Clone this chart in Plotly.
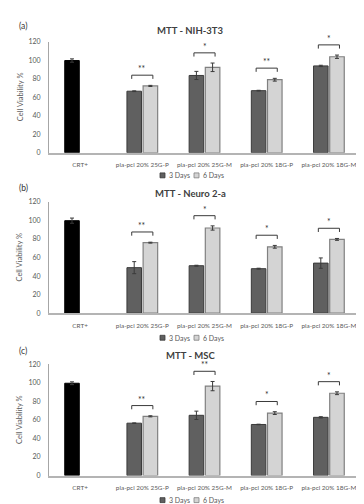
import plotly.graph_objects as go

# ---------------- data ----------------
categories = ["CRT+", "pla-pcl 20% 25G-P", "pla-pcl 20% 25G-M", "pla-pcl 20% 18G-P", "pla-pcl 20% 18G-M"]
samples = categories[1:]
y_ticks = [0, 20, 40, 60, 80, 100, 120]

titles = ["MTT - NIH-3T3", "MTT - Neuro 2-a", "MTT - MSC"]
panel_labels = ["(a)", "(b)", "(c)"]

crt_a, crt_err_a = 99.5, 1.8
days3_a = [66.4, 83.4, 67.0, 93.7]
days3_err_a = [0.4, 4.4, 0.4, 0.7]
days6_a = [72.1, 92.2, 78.8, 103.6]
days6_err_a = [0.6, 4.6, 1.5, 1.8]
sig_a = ["**", "*", "**", "*"]

crt_b, crt_err_b = 99.8, 2.8
days3_b = [49.1, 51.2, 48.0, 54.0]
days3_err_b = [6.5, 0.5, 0.5, 5.6]
days6_b = [76.1, 91.9, 71.6, 79.6]
days6_err_b = [0.5, 2.3, 1.5, 1.0]
sig_b = ["**", "*", "*", "*"]

crt_c, crt_err_c = 99.6, 1.5
days3_c = [56.5, 65.0, 55.1, 62.8]
days3_err_c = [0.3, 4.5, 0.3, 0.7]
days6_c = [63.9, 96.5, 67.4, 88.8]
days6_err_c = [0.6, 5.0, 1.5, 1.5]
sig_c = ["**", "**", "*", "*"]

panels = [
    (crt_a, crt_err_a, days3_a, days3_err_a, days6_a, days6_err_a, sig_a),
    (crt_b, crt_err_b, days3_b, days3_err_b, days6_b, days6_err_b, sig_b),
    (crt_c, crt_err_c, days3_c, days3_err_c, days6_c, days6_err_c, sig_c),
]

# ---------------- styling ----------------
W, H = 364, 504
FONT = "Lato, 'Open Sans', sans-serif"
DARK = "#606060"
DARK_LINE = "#3a3a3a"
LIGHT = "#d4d4d4"
LIGHT_LINE = "#808080"
TXT = "#595959"
ERR = "#3a3a3a"

def px_x(x):
    return x / W

def px_y(y):
    return 1 - y / H

plot_left, plot_right = 41, 352
panel_tops = [29, 192, 357]
plot_h = 113
panel_offsets = [0, 165, 330]

fig = go.Figure()
shapes = []
annotations = []

for i, (crt, crt_err, d3, d3e, d6, d6e, sig) in enumerate(panels):
    n = i + 1
    xa = "x" if n == 1 else f"x{n}"
    ya = "y" if n == 1 else f"y{n}"
    top = panel_tops[i]
    bot = top + plot_h
    off = panel_offsets[i]

    fig.add_trace(go.Bar(
        x=[categories[0]], y=[crt], xaxis=xa, yaxis=ya, offsetgroup=f"d3_{n}",
        marker=dict(color="#000000", line=dict(color="#000000", width=1)),
        error_y=dict(type="data", array=[crt_err], color=ERR, thickness=1, width=2),
        showlegend=False, name="CRT+",
    ))
    fig.add_trace(go.Bar(
        x=samples, y=d3, xaxis=xa, yaxis=ya, offsetgroup=f"d3_{n}",
        marker=dict(color=DARK, line=dict(color=DARK_LINE, width=1)),
        error_y=dict(type="data", array=d3e, color=ERR, thickness=1, width=2),
        showlegend=False, name="3 Days",
    ))
    fig.add_trace(go.Bar(
        x=samples, y=d6, xaxis=xa, yaxis=ya, offsetgroup=f"d6_{n}",
        marker=dict(color=LIGHT, line=dict(color=LIGHT_LINE, width=1.2)),
        error_y=dict(type="data", array=d6e, color=ERR, thickness=1, width=2),
        showlegend=False, name="6 Days",
    ))

    xdom = [px_x(plot_left), px_x(plot_right)]
    ydom = [px_y(bot), px_y(top)]
    fig.update_layout(**{
        ("xaxis" if n == 1 else f"xaxis{n}"): dict(
            domain=xdom, anchor=ya, type="category",
            categoryorder="array", categoryarray=categories,
            range=[-0.5, len(categories) - 0.5],
            showline=True, linecolor="#b4b4b4", linewidth=1.5,
            ticks="", showgrid=False, zeroline=False,
            tickfont=dict(family=FONT, size=6.4, color=TXT),
            ticklabelstandoff=5,
        ),
        ("yaxis" if n == 1 else f"yaxis{n}"): dict(
            domain=ydom, anchor=xa, range=[0, 120], tickvals=y_ticks,
            showline=True, linecolor="#a6a6a6", linewidth=1,
            ticks="", showgrid=False, zeroline=False,
            tickfont=dict(family=FONT, size=7, color=TXT),
            ticklabelstandoff=6,
        ),
    })

    # significance brackets, computed from data
    for j, s in enumerate(sig):
        c = j + 1
        level = max(d3[j] + d3e[j], d6[j] + d6e[j]) + 11
        x0, x1 = c - 0.17, c + 0.17
        shapes.append(dict(
            type="path", xref=xa, yref=ya,
            path=f"M {x0},{level-4} L {x0},{level} L {x1},{level} L {x1},{level-4}",
            line=dict(color=DARK_LINE, width=1),
        ))
        annotations.append(dict(
            x=c, y=level, xref=xa, yref=ya, text=s, showarrow=False,
            yanchor="bottom", yshift=-1,
            font=dict(family=FONT, size=8.5, color="#333333"),
        ))

    # title
    annotations.append(dict(
        x=0.5, y=px_y(off + 18), xref="paper", yref="paper", text=f"<b>{titles[i]}</b>",
        showarrow=False, xanchor="center", yanchor="middle",
        font=dict(family=FONT, size=9.5, color="#404040"),
    ))
    # panel label
    annotations.append(dict(
        x=px_x(9), y=px_y(off + 13), xref="paper", yref="paper", text=panel_labels[i],
        showarrow=False, xanchor="left", yanchor="middle",
        font=dict(family=FONT, size=8.5, color="#333333"),
    ))
    # y title
    annotations.append(dict(
        x=px_x(12), y=px_y((top + bot) / 2), xref="paper", yref="paper",
        text="Cell Viability %", textangle=-90, showarrow=False,
        xanchor="center", yanchor="middle",
        font=dict(family=FONT, size=7.5, color=TXT),
    ))
    # legend (drawn manually)
    ly = off + 165
    for (sx, fill, edge, label) in [(152, DARK, DARK_LINE, "3 Days"), (186, LIGHT, LIGHT_LINE, "6 Days")]:
        shapes.append(dict(
            type="rect", xref="paper", yref="paper",
            x0=px_x(sx), x1=px_x(sx + 5), y0=px_y(ly + 2.5), y1=px_y(ly - 2.5),
            fillcolor=fill, line=dict(color=edge, width=0.8),
        ))
        annotations.append(dict(
            x=px_x(sx + 6.5), y=px_y(ly), xref="paper", yref="paper", text=label,
            showarrow=False, xanchor="left", yanchor="middle",
            font=dict(family=FONT, size=7, color=TXT),
        ))

fig.update_layout(
    width=W, height=H,
    margin=dict(l=0, r=0, t=0, b=0),
    paper_bgcolor="white", plot_bgcolor="white",
    barmode="group", bargap=0.48, bargroupgap=0.1,
    showlegend=False,
    shapes=shapes, annotations=annotations,
    font=dict(family=FONT),
)

fig.write_html("out.html")
